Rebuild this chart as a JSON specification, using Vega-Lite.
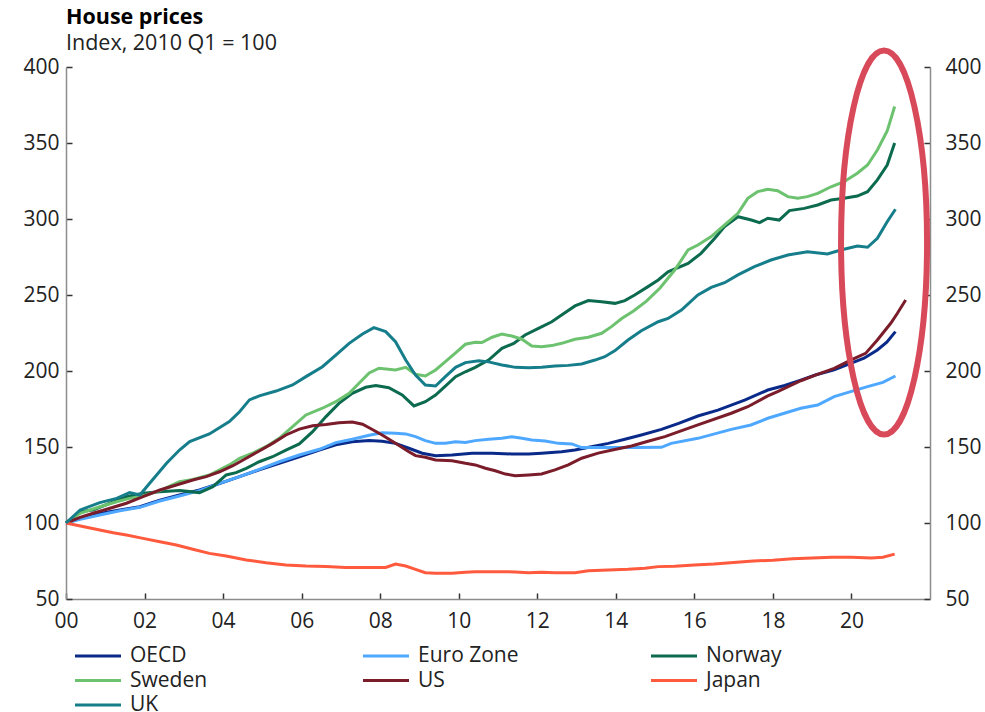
{
  "$schema": "https://vega.github.io/schema/vega-lite/v6.json",
  "width": 864,
  "height": 532,
  "autosize": {"type": "none"},
  "padding": {"left": 66, "top": 67, "right": 55, "bottom": 113},
  "background": "white",
  "title": {
    "text": "House prices",
    "subtitle": "Index, 2010 Q1 = 100",
    "anchor": "start",
    "frame": "group",
    "font": "Open Sans",
    "fontSize": 21.5,
    "fontWeight": "bold",
    "color": "#000000",
    "subtitleFont": "Open Sans",
    "subtitleFontSize": 21.5,
    "subtitleColor": "#222222",
    "subtitlePadding": 5,
    "offset": -16
  },
  "config": {
    "view": {"stroke": null},
    "axis": {
      "labelFont": "Open Sans",
      "labelFontSize": 21,
      "labelColor": "#222222",
      "domainColor": "#8c8c8c",
      "domainWidth": 1.5,
      "tickColor": "#333333",
      "tickWidth": 1.5,
      "tickSize": -6,
      "grid": false,
      "title": null
    },
    "legend": {
      "labelFont": "Open Sans",
      "labelFontSize": 21,
      "labelColor": "#222222"
    }
  },
  "resolve": {"axis": {"y": "independent"}},
  "layer": [
    {
      "data": {"values": [
        {"s":"OECD","t":0,"v":100},{"s":"OECD","t":0.36,"v":103},{"s":"OECD","t":0.86,"v":106.2},{"s":"OECD","t":1.37,"v":108.6},{"s":"OECD","t":1.88,"v":110.7},{"s":"OECD","t":2.39,"v":115},{"s":"OECD","t":2.89,"v":118.4},{"s":"OECD","t":3.4,"v":121.7},{"s":"OECD","t":3.91,"v":126},{"s":"OECD","t":4.42,"v":130.5},{"s":"OECD","t":4.92,"v":135},{"s":"OECD","t":5.43,"v":139.3},{"s":"OECD","t":5.94,"v":143.6},{"s":"OECD","t":6.45,"v":148},{"s":"OECD","t":6.87,"v":151.5},{"s":"OECD","t":7.29,"v":153.5},{"s":"OECD","t":7.72,"v":154.3},{"s":"OECD","t":8.05,"v":153.8},{"s":"OECD","t":8.39,"v":152.4},{"s":"OECD","t":8.73,"v":149.2},{"s":"OECD","t":9.07,"v":145.9},{"s":"OECD","t":9.41,"v":144.3},{"s":"OECD","t":9.83,"v":144.7},{"s":"OECD","t":10.34,"v":145.9},{"s":"OECD","t":10.85,"v":145.9},{"s":"OECD","t":11.35,"v":145.4},{"s":"OECD","t":11.78,"v":145.4},{"s":"OECD","t":12.11,"v":145.9},{"s":"OECD","t":12.62,"v":146.9},{"s":"OECD","t":12.96,"v":148},{"s":"OECD","t":13.38,"v":150.2},{"s":"OECD","t":13.81,"v":152.4},{"s":"OECD","t":14.23,"v":155.1},{"s":"OECD","t":14.65,"v":157.9},{"s":"OECD","t":15.16,"v":161.6},{"s":"OECD","t":15.6,"v":165.5},{"s":"OECD","t":16.09,"v":170.4},{"s":"OECD","t":16.6,"v":174.3},{"s":"OECD","t":17.28,"v":180.9},{"s":"OECD","t":17.87,"v":187.5},{"s":"OECD","t":18.3,"v":190.5},{"s":"OECD","t":18.71,"v":194},{"s":"OECD","t":19.1,"v":197.5},{"s":"OECD","t":19.56,"v":200.7},{"s":"OECD","t":19.98,"v":205},{"s":"OECD","t":20.32,"v":208.4},{"s":"OECD","t":20.66,"v":213.8},{"s":"OECD","t":20.9,"v":219},{"s":"OECD","t":21.12,"v":225.9},
        {"s":"Euro Zone","t":0,"v":100},{"s":"Euro Zone","t":0.36,"v":102.4},{"s":"Euro Zone","t":0.86,"v":105.3},{"s":"Euro Zone","t":1.37,"v":108.1},{"s":"Euro Zone","t":1.88,"v":110.3},{"s":"Euro Zone","t":2.39,"v":114.5},{"s":"Euro Zone","t":2.89,"v":117.8},{"s":"Euro Zone","t":3.4,"v":121.3},{"s":"Euro Zone","t":3.91,"v":126.1},{"s":"Euro Zone","t":4.42,"v":130.5},{"s":"Euro Zone","t":4.92,"v":135.3},{"s":"Euro Zone","t":5.43,"v":140.3},{"s":"Euro Zone","t":5.94,"v":144.7},{"s":"Euro Zone","t":6.45,"v":148.5},{"s":"Euro Zone","t":6.87,"v":152.9},{"s":"Euro Zone","t":7.29,"v":155.1},{"s":"Euro Zone","t":7.72,"v":157.7},{"s":"Euro Zone","t":8.05,"v":159.4},{"s":"Euro Zone","t":8.39,"v":159},{"s":"Euro Zone","t":8.65,"v":158.6},{"s":"Euro Zone","t":8.9,"v":156.8},{"s":"Euro Zone","t":9.15,"v":154.2},{"s":"Euro Zone","t":9.41,"v":152.4},{"s":"Euro Zone","t":9.66,"v":152.4},{"s":"Euro Zone","t":9.92,"v":153.5},{"s":"Euro Zone","t":10.17,"v":152.9},{"s":"Euro Zone","t":10.42,"v":154.2},{"s":"Euro Zone","t":10.76,"v":155.1},{"s":"Euro Zone","t":11.1,"v":155.7},{"s":"Euro Zone","t":11.35,"v":156.8},{"s":"Euro Zone","t":11.61,"v":155.7},{"s":"Euro Zone","t":11.86,"v":154.6},{"s":"Euro Zone","t":12.2,"v":154},{"s":"Euro Zone","t":12.54,"v":152.4},{"s":"Euro Zone","t":12.88,"v":152},{"s":"Euro Zone","t":13.13,"v":149.6},{"s":"Euro Zone","t":13.89,"v":149.6},{"s":"Euro Zone","t":14.5,"v":149.6},{"s":"Euro Zone","t":15.16,"v":149.8},{"s":"Euro Zone","t":15.41,"v":152.4},{"s":"Euro Zone","t":16.09,"v":155.7},{"s":"Euro Zone","t":16.94,"v":161.6},{"s":"Euro Zone","t":17.44,"v":164.5},{"s":"Euro Zone","t":17.87,"v":168.9},{"s":"Euro Zone","t":18.29,"v":172.2},{"s":"Euro Zone","t":18.71,"v":175.5},{"s":"Euro Zone","t":19.14,"v":177.6},{"s":"Euro Zone","t":19.56,"v":183.1},{"s":"Euro Zone","t":19.98,"v":186.4},{"s":"Euro Zone","t":20.41,"v":189.7},{"s":"Euro Zone","t":20.8,"v":192.5},{"s":"Euro Zone","t":21.12,"v":196.7},
        {"s":"Norway","t":0,"v":100},{"s":"Norway","t":0.36,"v":107.5},{"s":"Norway","t":0.69,"v":108.6},{"s":"Norway","t":1.12,"v":113},{"s":"Norway","t":1.54,"v":117.3},{"s":"Norway","t":1.96,"v":119.5},{"s":"Norway","t":2.39,"v":120.6},{"s":"Norway","t":2.89,"v":121.3},{"s":"Norway","t":3.4,"v":120},{"s":"Norway","t":3.74,"v":123.9},{"s":"Norway","t":4.08,"v":131.6},{"s":"Norway","t":4.33,"v":133.1},{"s":"Norway","t":4.59,"v":136},{"s":"Norway","t":4.92,"v":140.3},{"s":"Norway","t":5.26,"v":143.6},{"s":"Norway","t":5.6,"v":148},{"s":"Norway","t":5.94,"v":152},{"s":"Norway","t":6.28,"v":160.1},{"s":"Norway","t":6.62,"v":170},{"s":"Norway","t":6.95,"v":178.7},{"s":"Norway","t":7.29,"v":185.3},{"s":"Norway","t":7.63,"v":189.3},{"s":"Norway","t":7.89,"v":190.5},{"s":"Norway","t":8.22,"v":189},{"s":"Norway","t":8.56,"v":184.2},{"s":"Norway","t":8.86,"v":177},{"s":"Norway","t":9.15,"v":179.8},{"s":"Norway","t":9.41,"v":184.2},{"s":"Norway","t":9.66,"v":190.1},{"s":"Norway","t":9.92,"v":196.3},{"s":"Norway","t":10.17,"v":199.5},{"s":"Norway","t":10.42,"v":202.4},{"s":"Norway","t":10.76,"v":207.2},{"s":"Norway","t":11.1,"v":214.9},{"s":"Norway","t":11.4,"v":218.2},{"s":"Norway","t":11.69,"v":223.7},{"s":"Norway","t":12.03,"v":228.1},{"s":"Norway","t":12.37,"v":232.4},{"s":"Norway","t":12.62,"v":236.8},{"s":"Norway","t":12.96,"v":242.8},{"s":"Norway","t":13.3,"v":246.3},{"s":"Norway","t":13.64,"v":245.6},{"s":"Norway","t":13.98,"v":244.5},{"s":"Norway","t":14.23,"v":246.3},{"s":"Norway","t":14.48,"v":250},{"s":"Norway","t":14.82,"v":255.5},{"s":"Norway","t":15.08,"v":259.9},{"s":"Norway","t":15.33,"v":265.3},{"s":"Norway","t":15.84,"v":270.8},{"s":"Norway","t":16.17,"v":277.4},{"s":"Norway","t":16.52,"v":287.3},{"s":"Norway","t":16.77,"v":295},{"s":"Norway","t":17.11,"v":301.5},{"s":"Norway","t":17.45,"v":299.3},{"s":"Norway","t":17.66,"v":297.6},{"s":"Norway","t":17.87,"v":300.5},{"s":"Norway","t":18.16,"v":299.3},{"s":"Norway","t":18.42,"v":305.5},{"s":"Norway","t":18.8,"v":307},{"s":"Norway","t":19.14,"v":309.2},{"s":"Norway","t":19.48,"v":312.5},{"s":"Norway","t":19.81,"v":313.6},{"s":"Norway","t":20.15,"v":315.1},{"s":"Norway","t":20.41,"v":318},{"s":"Norway","t":20.66,"v":325.7},{"s":"Norway","t":20.91,"v":335.5},{"s":"Norway","t":21.1,"v":350},
        {"s":"Sweden","t":0,"v":100},{"s":"Sweden","t":0.36,"v":106.4},{"s":"Sweden","t":0.86,"v":110.7},{"s":"Sweden","t":1.29,"v":114},{"s":"Sweden","t":1.62,"v":116.2},{"s":"Sweden","t":1.96,"v":117.8},{"s":"Sweden","t":2.39,"v":121.3},{"s":"Sweden","t":2.89,"v":127.2},{"s":"Sweden","t":3.23,"v":128.7},{"s":"Sweden","t":3.65,"v":131.6},{"s":"Sweden","t":4.16,"v":138.2},{"s":"Sweden","t":4.42,"v":142.6},{"s":"Sweden","t":4.75,"v":145.9},{"s":"Sweden","t":5.09,"v":150.2},{"s":"Sweden","t":5.43,"v":155.7},{"s":"Sweden","t":5.77,"v":163.4},{"s":"Sweden","t":6.11,"v":171.1},{"s":"Sweden","t":6.53,"v":175.5},{"s":"Sweden","t":6.87,"v":179.8},{"s":"Sweden","t":7.21,"v":185.3},{"s":"Sweden","t":7.46,"v":191.9},{"s":"Sweden","t":7.72,"v":198.7},{"s":"Sweden","t":7.97,"v":201.8},{"s":"Sweden","t":8.39,"v":200.7},{"s":"Sweden","t":8.65,"v":202.4},{"s":"Sweden","t":8.9,"v":197.8},{"s":"Sweden","t":9.15,"v":196.7},{"s":"Sweden","t":9.41,"v":200.7},{"s":"Sweden","t":9.66,"v":206.1},{"s":"Sweden","t":9.92,"v":212},{"s":"Sweden","t":10.17,"v":217.6},{"s":"Sweden","t":10.42,"v":218.9},{"s":"Sweden","t":10.59,"v":218.7},{"s":"Sweden","t":10.85,"v":222.2},{"s":"Sweden","t":11.1,"v":224.3},{"s":"Sweden","t":11.35,"v":223},{"s":"Sweden","t":11.61,"v":220.9},{"s":"Sweden","t":11.86,"v":216.4},{"s":"Sweden","t":12.11,"v":216},{"s":"Sweden","t":12.37,"v":216.7},{"s":"Sweden","t":12.62,"v":218.2},{"s":"Sweden","t":12.96,"v":220.9},{"s":"Sweden","t":13.3,"v":222.2},{"s":"Sweden","t":13.64,"v":224.8},{"s":"Sweden","t":13.89,"v":229.2},{"s":"Sweden","t":14.15,"v":234.5},{"s":"Sweden","t":14.45,"v":239.5},{"s":"Sweden","t":14.78,"v":246},{"s":"Sweden","t":15.12,"v":254.4},{"s":"Sweden","t":15.5,"v":266.4},{"s":"Sweden","t":15.84,"v":279.6},{"s":"Sweden","t":16.09,"v":282.9},{"s":"Sweden","t":16.43,"v":288.4},{"s":"Sweden","t":16.77,"v":296.1},{"s":"Sweden","t":17.11,"v":303.7},{"s":"Sweden","t":17.36,"v":313.6},{"s":"Sweden","t":17.61,"v":318},{"s":"Sweden","t":17.87,"v":319.5},{"s":"Sweden","t":18.12,"v":318.6},{"s":"Sweden","t":18.38,"v":314.7},{"s":"Sweden","t":18.63,"v":313.6},{"s":"Sweden","t":18.88,"v":314.7},{"s":"Sweden","t":19.14,"v":316.9},{"s":"Sweden","t":19.48,"v":321.2},{"s":"Sweden","t":19.81,"v":324.5},{"s":"Sweden","t":20.15,"v":330.1},{"s":"Sweden","t":20.41,"v":335.5},{"s":"Sweden","t":20.66,"v":345.4},{"s":"Sweden","t":20.91,"v":358},{"s":"Sweden","t":21.1,"v":374},
        {"s":"US","t":0,"v":100},{"s":"US","t":0.36,"v":103.7},{"s":"US","t":0.69,"v":106.4},{"s":"US","t":1.12,"v":109.7},{"s":"US","t":1.54,"v":113},{"s":"US","t":1.96,"v":117.3},{"s":"US","t":2.39,"v":121.7},{"s":"US","t":2.81,"v":125},{"s":"US","t":3.23,"v":128.3},{"s":"US","t":3.57,"v":130.5},{"s":"US","t":3.91,"v":133.7},{"s":"US","t":4.25,"v":137.7},{"s":"US","t":4.59,"v":142.6},{"s":"US","t":4.92,"v":147.4},{"s":"US","t":5.26,"v":152.4},{"s":"US","t":5.6,"v":157.9},{"s":"US","t":5.94,"v":161.8},{"s":"US","t":6.28,"v":164},{"s":"US","t":6.62,"v":164.8},{"s":"US","t":6.95,"v":166},{"s":"US","t":7.29,"v":166.5},{"s":"US","t":7.55,"v":165},{"s":"US","t":7.8,"v":161.5},{"s":"US","t":8.05,"v":157.9},{"s":"US","t":8.39,"v":152.4},{"s":"US","t":8.73,"v":146.9},{"s":"US","t":8.9,"v":144.3},{"s":"US","t":9.15,"v":143.2},{"s":"US","t":9.41,"v":141.4},{"s":"US","t":9.83,"v":141},{"s":"US","t":10.17,"v":139.3},{"s":"US","t":10.42,"v":138.2},{"s":"US","t":10.68,"v":136},{"s":"US","t":10.93,"v":134.4},{"s":"US","t":11.19,"v":132.2},{"s":"US","t":11.44,"v":131.1},{"s":"US","t":11.78,"v":131.6},{"s":"US","t":12.11,"v":132.2},{"s":"US","t":12.45,"v":134.9},{"s":"US","t":12.79,"v":138.2},{"s":"US","t":13.13,"v":142.6},{"s":"US","t":13.55,"v":146},{"s":"US","t":14,"v":148.5},{"s":"US","t":14.4,"v":150.7},{"s":"US","t":14.82,"v":153.8},{"s":"US","t":15.25,"v":156.8},{"s":"US","t":16.09,"v":164.5},{"s":"US","t":16.94,"v":172.2},{"s":"US","t":17.36,"v":176.5},{"s":"US","t":17.87,"v":183.6},{"s":"US","t":18.12,"v":186.4},{"s":"US","t":18.71,"v":193.6},{"s":"US","t":19.1,"v":197.5},{"s":"US","t":19.56,"v":201.7},{"s":"US","t":19.98,"v":207.2},{"s":"US","t":20.36,"v":211.6},{"s":"US","t":20.66,"v":220.4},{"s":"US","t":21,"v":231.4},{"s":"US","t":21.17,"v":238},{"s":"US","t":21.38,"v":246.7},
        {"s":"Japan","t":0,"v":100},{"s":"Japan","t":0.52,"v":97.2},{"s":"Japan","t":0.86,"v":95.4},{"s":"Japan","t":1.2,"v":93.6},{"s":"Japan","t":1.54,"v":92.1},{"s":"Japan","t":1.96,"v":89.9},{"s":"Japan","t":2.39,"v":87.7},{"s":"Japan","t":2.81,"v":85.5},{"s":"Japan","t":3.23,"v":82.7},{"s":"Japan","t":3.65,"v":80},{"s":"Japan","t":4.08,"v":78.3},{"s":"Japan","t":4.59,"v":75.7},{"s":"Japan","t":5.09,"v":73.9},{"s":"Japan","t":5.6,"v":72.4},{"s":"Japan","t":6.11,"v":71.7},{"s":"Japan","t":6.62,"v":71.3},{"s":"Japan","t":7.12,"v":70.8},{"s":"Japan","t":7.63,"v":70.8},{"s":"Japan","t":8.14,"v":70.8},{"s":"Japan","t":8.39,"v":73},{"s":"Japan","t":8.65,"v":71.7},{"s":"Japan","t":8.9,"v":69.5},{"s":"Japan","t":9.15,"v":67.3},{"s":"Japan","t":9.41,"v":66.9},{"s":"Japan","t":9.83,"v":66.9},{"s":"Japan","t":10.17,"v":67.6},{"s":"Japan","t":10.42,"v":68},{"s":"Japan","t":10.93,"v":68},{"s":"Japan","t":11.44,"v":67.8},{"s":"Japan","t":11.78,"v":67.3},{"s":"Japan","t":12.11,"v":67.6},{"s":"Japan","t":12.45,"v":67.3},{"s":"Japan","t":12.96,"v":67.3},{"s":"Japan","t":13.3,"v":68.6},{"s":"Japan","t":13.81,"v":69.1},{"s":"Japan","t":14.31,"v":69.5},{"s":"Japan","t":14.74,"v":70.2},{"s":"Japan","t":15.08,"v":71.3},{"s":"Japan","t":15.5,"v":71.5},{"s":"Japan","t":16,"v":72.3},{"s":"Japan","t":16.5,"v":73},{"s":"Japan","t":17,"v":74},{"s":"Japan","t":17.5,"v":75},{"s":"Japan","t":18,"v":75.5},{"s":"Japan","t":18.5,"v":76.5},{"s":"Japan","t":19,"v":77},{"s":"Japan","t":19.5,"v":77.5},{"s":"Japan","t":20,"v":77.5},{"s":"Japan","t":20.5,"v":77},{"s":"Japan","t":20.8,"v":77.5},{"s":"Japan","t":21.1,"v":79.5},
        {"s":"UK","t":0,"v":100},{"s":"UK","t":0.36,"v":108.6},{"s":"UK","t":0.86,"v":113.4},{"s":"UK","t":1.29,"v":116.2},{"s":"UK","t":1.62,"v":120},{"s":"UK","t":1.88,"v":118.4},{"s":"UK","t":2.13,"v":126.1},{"s":"UK","t":2.56,"v":139.3},{"s":"UK","t":2.89,"v":148},{"s":"UK","t":3.15,"v":153.5},{"s":"UK","t":3.65,"v":158.6},{"s":"UK","t":4.16,"v":166.7},{"s":"UK","t":4.42,"v":173.2},{"s":"UK","t":4.67,"v":181},{"s":"UK","t":4.92,"v":183.6},{"s":"UK","t":5.35,"v":186.8},{"s":"UK","t":5.77,"v":190.8},{"s":"UK","t":6.11,"v":196.3},{"s":"UK","t":6.53,"v":202.8},{"s":"UK","t":6.87,"v":210.5},{"s":"UK","t":7.21,"v":218.2},{"s":"UK","t":7.55,"v":224.3},{"s":"UK","t":7.84,"v":228.5},{"s":"UK","t":8.14,"v":225.9},{"s":"UK","t":8.39,"v":219.3},{"s":"UK","t":8.65,"v":207.2},{"s":"UK","t":8.9,"v":197.4},{"s":"UK","t":9.15,"v":190.8},{"s":"UK","t":9.41,"v":190.1},{"s":"UK","t":9.66,"v":196.3},{"s":"UK","t":9.92,"v":202.4},{"s":"UK","t":10.17,"v":205.5},{"s":"UK","t":10.51,"v":206.8},{"s":"UK","t":10.76,"v":206},{"s":"UK","t":11.1,"v":204},{"s":"UK","t":11.44,"v":202.4},{"s":"UK","t":11.78,"v":202.2},{"s":"UK","t":12.11,"v":202.4},{"s":"UK","t":12.45,"v":203.3},{"s":"UK","t":12.79,"v":203.7},{"s":"UK","t":13.13,"v":204.6},{"s":"UK","t":13.47,"v":207.2},{"s":"UK","t":13.72,"v":209.4},{"s":"UK","t":13.98,"v":213.4},{"s":"UK","t":14.31,"v":220.4},{"s":"UK","t":14.65,"v":226.5},{"s":"UK","t":15.08,"v":232.4},{"s":"UK","t":15.33,"v":234.6},{"s":"UK","t":15.67,"v":240.1},{"s":"UK","t":16.09,"v":250},{"s":"UK","t":16.43,"v":255},{"s":"UK","t":16.77,"v":258.1},{"s":"UK","t":17.11,"v":263.2},{"s":"UK","t":17.53,"v":268.6},{"s":"UK","t":17.95,"v":273},{"s":"UK","t":18.38,"v":276.3},{"s":"UK","t":18.88,"v":278.5},{"s":"UK","t":19.39,"v":277},{"s":"UK","t":19.73,"v":279.6},{"s":"UK","t":20.15,"v":282.2},{"s":"UK","t":20.41,"v":281.4},{"s":"UK","t":20.66,"v":287.3},{"s":"UK","t":20.91,"v":298.2},{"s":"UK","t":21.12,"v":306.4}
      ]},
      "mark": {"type": "line", "strokeWidth": 3, "interpolate": "linear"},
      "encoding": {
        "x": {
          "field": "t", "type": "quantitative",
          "scale": {"domain": [0, 22], "nice": false, "zero": false},
          "axis": {"values": [0,2,4,6,8,10,12,14,16,18,20], "labelExpr": "datum.value < 10 ? '0' + datum.value : '' + datum.value", "labelPadding": 17, "labelFlush": false}
        },
        "y": {
          "field": "v", "type": "quantitative",
          "scale": {"domain": [50, 400], "nice": false, "zero": false},
          "axis": {"orient": "left", "values": [50,100,150,200,250,300,350,400], "labelPadding": 13}
        },
        "color": {
          "field": "s", "type": "nominal",
          "scale": {
            "domain": ["OECD","Euro Zone","Norway","Sweden","US","Japan","UK"],
            "range": ["#0a2a8a","#4ea8ff","#0c6a4f","#6cc26f","#7a1c2a","#ff5a3d","#167e8b"]
          },
          "legend": {
            "title": null,
            "orient": "none",
            "legendX": 19,
            "legendY": 576,
            "direction": "horizontal",
            "columns": 3,
            "gridAlign": "all",
            "columnPadding": 126,
            "rowPadding": 1.5,
            "symbolType": "M-2,0H2",
            "symbolSize": 529,
            "symbolStrokeWidth": 3,
            "symbolFillColor": "transparent",
            "labelOffset": 19
          }
        },
        "order": {"value": 0}
      }
    },
    {
      "data": {"values": [{"t": 20.83, "v": 284.5}]},
      "mark": {
        "type": "point",
        "shape": "M0,-1C0.1237,-1,0.224,-0.5523,0.224,0C0.224,0.5523,0.1237,1,0,1C-0.1237,1,-0.224,0.5523,-0.224,0C-0.224,-0.5523,-0.1237,-1,0,-1Z",
        "size": 147456,
        "filled": false,
        "stroke": "#d84a5a",
        "strokeWidth": 6,
        "opacity": 1
      },
      "encoding": {
        "x": {"field": "t", "type": "quantitative"},
        "y": {
          "field": "v", "type": "quantitative",
          "axis": {"orient": "right", "values": [50,100,150,200,250,300,350,400], "labelPadding": 21}
        }
      }
    }
  ]
}
